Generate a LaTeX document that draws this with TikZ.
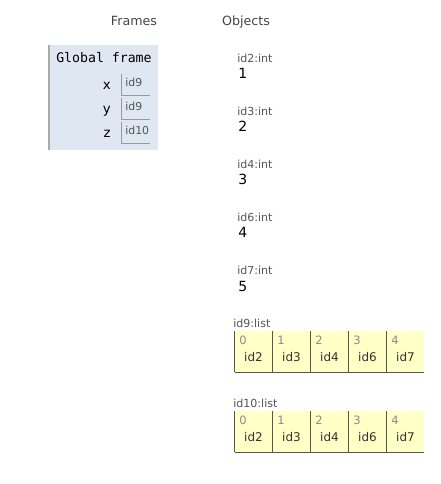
\documentclass[tikz,border=0pt]{standalone}
\usepackage{fontspec}
\setmainfont{DejaVu Sans}
\newfontfamily\monofont{DejaVu Sans Mono}
\definecolor{framebg}{HTML}{DFE7F2}
\definecolor{frameline}{HTML}{AAAAAA}
\definecolor{cellline}{HTML}{999999}
\definecolor{listbg}{HTML}{FFFFC6}
\definecolor{listline}{HTML}{555555}
\definecolor{hdr}{HTML}{444444}
\definecolor{lbl}{HTML}{555555}
\definecolor{idxc}{HTML}{8A8A8A}
\tikzset{
  hdrtext/.style={font=\fontsize{9.5}{11}\selectfont, text=hdr, inner sep=0pt, anchor=base},
  vartext/.style={font=\fontsize{10}{12}\selectfont, inner sep=0pt, anchor=base east},
  reftext/.style={font=\fontsize{8.2}{10}\selectfont, text=lbl, inner sep=0pt, anchor=base west},
  typelbl/.style={font=\fontsize{8.3}{10}\selectfont, text=lbl, inner sep=0pt, anchor=base west},
  valtext/.style={font=\fontsize{10.5}{12}\selectfont, inner sep=0pt, anchor=base west},
  idxtext/.style={font=\fontsize{8.6}{10}\selectfont, text=idxc, inner sep=0pt, anchor=base west},
  elemtext/.style={font=\fontsize{9}{11}\selectfont, text=black!80, inner sep=0pt, anchor=base},
  cellborder/.style={draw=cellline, line width=0.7pt},
  listborder/.style={draw=listline, line width=0.75pt},
}
\begin{document}
\begin{tikzpicture}[x=0.75pt,y=-0.75pt]
\useasboundingbox (0,0) rectangle (440,484);
% headers
\node[hdrtext] (hframes) at (134,26) {Frames};
\node[hdrtext] (hobjects) at (246,26) {Objects};
% global frame
\fill[framebg] (49,45) rectangle (158,150);
\draw[frameline, line width=0.9pt] (49,45) -- (49,150);
\node[font=\monofont\fontsize{9.9}{11}\selectfont, inner sep=0pt, anchor=base west] (gf) at (56,63) {Global frame};
\foreach \nm/\val/\t [count=\i] in {x/id9/74, y/id9/98, z/id10/122}{
  \draw[cellborder] (121,\t) -- (121,\t+21) -- (150,\t+21);
  \node[vartext] (var\i) at (111,\t+16) {\nm};
  \node[reftext] (ref\i) at (125,\t+13) {\val};
}
% int objects
\foreach \id/\v [count=\i] in {id2/1, id3/2, id4/3, id6/4, id7/5}{
  \node[typelbl] (t\i) at (237,{62.5+53*(\i-1)}) {\id:int};
  \node[valtext] (v\i) at (238,{79+53*(\i-1)}) {\v};
}
% lists
\foreach \lname/\top [count=\j] in {id9/331, id10/411}{
  \node[typelbl] (l\j) at (233,\top-4) {\lname:list};
  \fill[listbg] (234.5,\top) rectangle (424,\top+41);
  \draw[listborder] (234.5,\top+41) -- (424,\top+41);
  \foreach \e [count=\k from 0] in {id2,id3,id4,id6,id7}{
    \pgfmathsetmacro{\xl}{234.5+38*\k}
    \draw[listborder] (\xl,\top) -- (\xl,\top+41);
    \node[idxtext] (i\j\k) at (\xl+4.5,\top+13) {\k};
    \node[elemtext] (e\j\k) at (\xl+19,\top+30.5) {\e};
  }
}
\end{tikzpicture}
\end{document}
